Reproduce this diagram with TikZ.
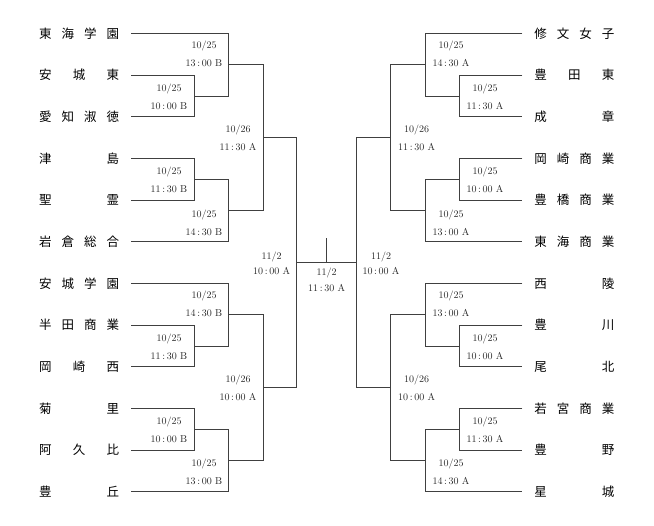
\documentclass[tikz,border=0pt]{standalone}
\usepackage{fontspec}
\newfontfamily\cjk{Noto Sans CJK JP}
\usetikzlibrary{positioning}

% spread the letters of a school name over a fixed width
\newcommand\spread[1]{\makebox[80pt]{#1}}

\begin{document}
\begin{tikzpicture}[x=1pt,y=-1pt,
    team/.style={inner sep=0pt,outer xsep=12pt,font=\fontsize{12.5}{14}\selectfont\cjk},
    info/.style={inner sep=0pt,align=center,font=\fontsize{10}{18}\selectfont,text=black!85},
    bracket/.style={draw=black!75,line width=0.6pt}]

  \useasboundingbox (0,0) rectangle (654,526);

  % schools, left side and right side
  \foreach \name [count=\i from 0] in {東\hfill 海\hfill 学\hfill 園, 安\hfill 城\hfill 東,
      愛\hfill 知\hfill 淑\hfill 徳, 津\hfill 島, 聖\hfill 霊, 岩\hfill 倉\hfill 総\hfill 合,
      安\hfill 城\hfill 学\hfill 園, 半\hfill 田\hfill 商\hfill 業, 岡\hfill 崎\hfill 西,
      菊\hfill 里, 阿\hfill 久\hfill 比, 豊\hfill 丘}
    \node[team,anchor=west] (L\i) at (27,{33.5+41.65*\i}) {\spread{\name}};
  \foreach \name [count=\i from 0] in {修\hfill 文\hfill 女\hfill 子, 豊\hfill 田\hfill 東,
      成\hfill 章, 岡\hfill 崎\hfill 商\hfill 業, 豊\hfill 橋\hfill 商\hfill 業,
      東\hfill 海\hfill 商\hfill 業, 西\hfill 陵, 豊\hfill 川, 尾\hfill 北,
      若\hfill 宮\hfill 商\hfill 業, 豊\hfill 野, 星\hfill 城}
    \node[team,anchor=east] (R\i) at (626.4,{33.5+41.65*\i}) {\spread{\name}};

  % joints of the left bracket
  \coordinate (la1) at (194.3,95.98);  \coordinate (lb1) at (228.3,64.74);
  \coordinate (la2) at (194.3,179.28); \coordinate (lb2) at (228.3,210.51);
  \coordinate (la3) at (194.3,345.88); \coordinate (lb3) at (228.3,314.64);
  \coordinate (la4) at (194.3,429.18); \coordinate (lb4) at (228.3,460.41);
  \coordinate (lc1) at (263.3,137.63); \coordinate (lc2) at (263.3,387.53);
  \coordinate (ls) at (296.7,262.58);

  % joints of the right bracket
  \coordinate (ra1) at (459.1,95.98);  \coordinate (rb1) at (425.1,64.74);
  \coordinate (ra2) at (459.1,179.28); \coordinate (rb2) at (425.1,210.51);
  \coordinate (ra3) at (459.1,345.88); \coordinate (rb3) at (425.1,314.64);
  \coordinate (ra4) at (459.1,429.18); \coordinate (rb4) at (425.1,460.41);
  \coordinate (rc1) at (390.1,137.63); \coordinate (rc2) at (390.1,387.53);
  \coordinate (rs) at (356.7,262.58);

  % final
  \coordinate (fin) at (326.7,262.58);
  \coordinate (top) at (326.7,238.3);

  % left bracket lines
  \draw[bracket] (L1.east) -| (la1) |- (L2.east);
  \draw[bracket] (L0.east) -| (lb1) |- (la1);
  \draw[bracket] (L3.east) -| (la2) |- (L4.east);
  \draw[bracket] (la2) -| (lb2) |- (L5.east);
  \draw[bracket] (L7.east) -| (la3) |- (L8.east);
  \draw[bracket] (L6.east) -| (lb3) |- (la3);
  \draw[bracket] (L9.east) -| (la4) |- (L10.east);
  \draw[bracket] (la4) -| (lb4) |- (L11.east);
  \draw[bracket] (lb1) -| (lc1) |- (lb2);
  \draw[bracket] (lb3) -| (lc2) |- (lb4);
  \draw[bracket] (lc1) -| (ls) |- (lc2);

  % right bracket lines
  \draw[bracket] (R1.west) -| (ra1) |- (R2.west);
  \draw[bracket] (R0.west) -| (rb1) |- (ra1);
  \draw[bracket] (R3.west) -| (ra2) |- (R4.west);
  \draw[bracket] (ra2) -| (rb2) |- (R5.west);
  \draw[bracket] (R7.west) -| (ra3) |- (R8.west);
  \draw[bracket] (R6.west) -| (rb3) |- (ra3);
  \draw[bracket] (R9.west) -| (ra4) |- (R10.west);
  \draw[bracket] (ra4) -| (rb4) |- (R11.west);
  \draw[bracket] (rb1) -| (rc1) |- (rb2);
  \draw[bracket] (rb3) -| (rc2) |- (rb4);
  \draw[bracket] (rc1) -| (rs) |- (rc2);

  % final lines
  \draw[bracket] (ls) -- (rs);
  \draw[bracket] (fin) -- (top);

  % dates and times, left
  \node[info] (lA) at (204,54.2) {10/25\\13\,:\,00 B};
  \node[info] (lB) at (169,96.6) {10/25\\10\,:\,00 B};
  \node[info] (lC) at (238,138.2) {10/26\\11\,:\,30 A};
  \node[info] (lD) at (169,179.5) {10/25\\11\,:\,30 B};
  \node[info] (lE) at (204,222.5) {10/25\\14\,:\,30 B};
  \node[info] (lF) at (271.7,263) {11/2\\[-3pt]10\,:\,00 A};
  \node[info] (lG) at (204,303.5) {10/25\\14\,:\,30 B};
  \node[info] (lH) at (169,346.8) {10/25\\11\,:\,30 B};
  \node[info] (lI) at (238,388) {10/26\\10\,:\,00 A};
  \node[info] (lJ) at (169,429.8) {10/25\\10\,:\,00 B};
  \node[info] (lK) at (204,472.2) {10/25\\13\,:\,00 B};

  % final date
  \node[info] (fD) at (326.7,279.5) {11/2\\[-2pt]11\,:\,30 A};

  % dates and times, right
  \node[info] (rA) at (451,53.7) {10/25\\14\,:\,30 A};
  \node[info] (rB) at (485,96.5) {10/25\\11\,:\,30 A};
  \node[info] (rC) at (416.7,138.2) {10/26\\11\,:\,30 A};
  \node[info] (rD) at (485,179.8) {10/25\\10\,:\,00 A};
  \node[info] (rE) at (451,222.5) {10/25\\13\,:\,00 A};
  \node[info] (rF) at (381,263) {11/2\\[-3pt]10\,:\,00 A};
  \node[info] (rG) at (451,303.5) {10/25\\13\,:\,00 A};
  \node[info] (rH) at (485,346.8) {10/25\\10\,:\,00 A};
  \node[info] (rI) at (416.7,388) {10/26\\10\,:\,00 A};
  \node[info] (rJ) at (485,429.8) {10/25\\11\,:\,30 A};
  \node[info] (rK) at (451,472.2) {10/25\\14\,:\,30 A};

\end{tikzpicture}
\end{document}
